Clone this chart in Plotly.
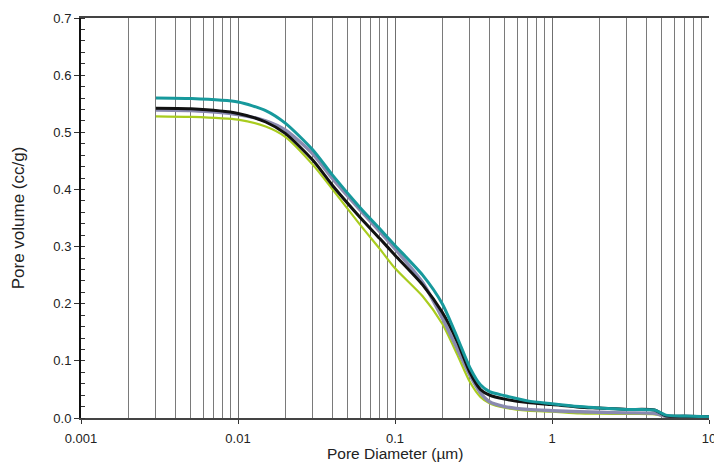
import plotly.graph_objects as go

diameter = [0.003, 0.005, 0.01, 0.015, 0.02, 0.03, 0.04, 0.06, 0.08, 0.1, 0.15, 0.2, 0.25,
            0.3, 0.35, 0.4, 0.5, 0.7, 1, 1.5, 2, 3, 4.5, 5.3, 7, 10]

teal = [0.560, 0.559, 0.553, 0.538, 0.516, 0.469, 0.425, 0.368, 0.331, 0.302, 0.250, 0.200, 0.140,
        0.088, 0.058, 0.046, 0.039, 0.030, 0.025, 0.020, 0.0175, 0.015, 0.014, 0.005, 0.0035, 0.002]
black = [0.542, 0.541, 0.533, 0.518, 0.498, 0.451, 0.407, 0.351, 0.314, 0.285, 0.233, 0.185, 0.133,
         0.080, 0.050, 0.040, 0.033, 0.027, 0.0235, 0.019, 0.0175, 0.015, 0.014, 0.004, 0.003, 0.002]
gray = [0.539, 0.538, 0.531, 0.520, 0.504, 0.462, 0.419, 0.364, 0.326, 0.296, 0.237, 0.175, 0.120,
        0.075, 0.044, 0.0285, 0.020, 0.015, 0.0128, 0.011, 0.010, 0.009, 0.008, 0.003, 0.0025, 0.002]
green = [0.528, 0.527, 0.522, 0.510, 0.492, 0.443, 0.400, 0.338, 0.296, 0.262, 0.213, 0.165, 0.110,
         0.063, 0.037, 0.026, 0.018, 0.013, 0.011, 0.008, 0.0075, 0.007, 0.0065, 0.003, 0.002, 0.0015]

x_tick_vals = [0.001, 0.01, 0.1, 1, 10]
x_tick_text = ["0.001", "0.01", "0.1", "1", "10"]
x_title = "Pore Diameter (µm)"
y_title = "Pore volume (cc/g)"

series = [
    ("green", green, "#a9cc1e", 2.2),
    ("gray", gray, "#8a8ab0", 3.4),
    ("black", black, "#111111", 3.0),
    ("teal", teal, "#17999c", 3.0),
]

fig = go.Figure()
for name, ys, color, w in series:
    fig.add_trace(go.Scatter(x=diameter, y=ys, mode="lines", name=name,
                             line=dict(color=color, width=w, shape="spline", smoothing=0.7),
                             showlegend=False))

font_family = "Liberation Sans, Arial, Helvetica, sans-serif"
fig.update_layout(
    width=714, height=462,
    margin=dict(l=81, r=5, t=18, b=44),
    paper_bgcolor="white", plot_bgcolor="white",
    font=dict(family=font_family, size=13, color="#222222"),
)
fig.add_annotation(text=x_title, xref="paper", yref="paper", x=0.5, y=-0.089,
                   xanchor="center", yanchor="middle", showarrow=False,
                   font=dict(size=15.5, color="#222222"))
fig.update_xaxes(
    type="log", range=[-3, 1], automargin=False,
    tickvals=x_tick_vals, ticktext=x_tick_text,
    ticks="outside", ticklen=4, tickcolor="#333333",
    ticklabelstandoff=3, ticklabeloverflow="allow",
    showgrid=True, gridcolor="#6f6f6f", gridwidth=1,
    minor=dict(dtick="D1", showgrid=True, gridcolor="#7a7a7a", gridwidth=1, ticks=""),
    showline=True, linecolor="#444444", linewidth=2, mirror=True,
    zeroline=False,
    tickfont=dict(size=13),
)
fig.update_yaxes(
    range=[0, 0.7], dtick=0.1, tickformat=".1f", automargin=False,
    ticks="outside", ticklen=5, tickcolor="#333333",
    minor=dict(dtick=0.02, ticks="inside", ticklen=4, tickcolor="#333333", showgrid=False),
    showgrid=False, zeroline=False,
    showline=True, linecolor="#111111", linewidth=2,
    title=dict(text=y_title, font=dict(size=17, color="#222222"), standoff=24),
    tickfont=dict(size=13),
)

fig.write_html("out.html", config={"displayModeBar": False},
               post_script="document.body.style.margin='0';document.body.style.overflow='hidden';")
